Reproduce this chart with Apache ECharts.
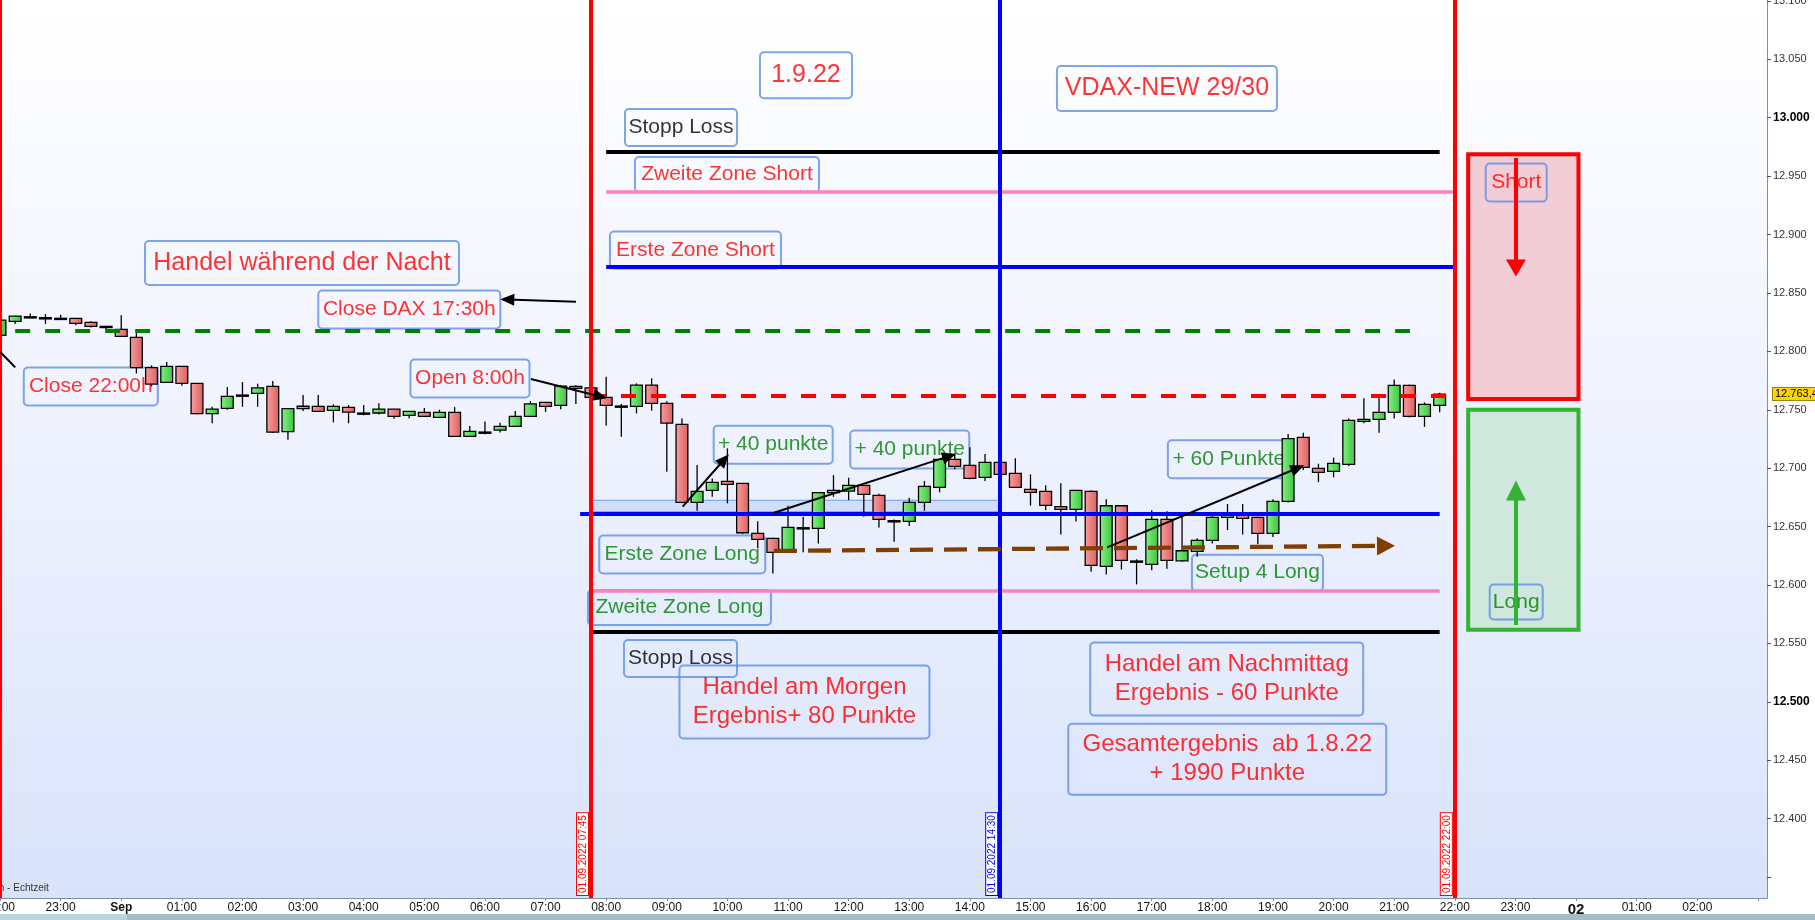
<!DOCTYPE html>
<html><head><meta charset="utf-8">
<script src="https://cdn.jsdelivr.net/npm/echarts@6/dist/echarts.min.js"></script>
<style>html,body{margin:0;padding:0;background:#fff;overflow:hidden}#c{width:1815px;height:920px}</style>
</head><body><div id="c"></div>
<script>
// ===== DATA (15-minute DAX candles, hours relative to 01.09.2022 00:00; first slot = 31.08 22:00) =====
const firstSlot = -2;
const slotStep = 0.25;
const openP = [12813.7,12825.7,12829.6,12828.8,12828.3,12828.3,12824.8,12821.4,12818.8,12812,
 12786,12773.5,12787.2,12772.6,12746.6,12751.2,12762.6,12764,12770,12731.2,
 12751,12752.9,12749.5,12752,12747.2,12747.2,12750.6,12745.2,12747.8,12743.5,
 12747.8,12727.2,12730.9,12732.6,12735.8,12744.3,12756.3,12753.8,12770,12768.8,
 12760.6,12753.2,12752.9,12771.1,12755.5,12737.5,12670.7,12681,12688.7,12687,
 12644.2,12639.9,12627.9,12649,12648.5,12679,12680.4,12685.3,12676.7,12655,
 12654.4,12670.7,12683.6,12707.5,12702.4,12692.1,12705,12695.6,12681.8,12680.1,
 12667,12664.7,12680.1,12615.9,12667.8,12620.5,12617.6,12656.2,12620.7,12628.8,
 12638.2,12657.9,12660.1,12657.9,12644.2,12671.6,12726.4,12699.8,12697.3,12703.3,
 12740.1,12741.8,12747.8,12770.9,12744.3,12753.8];
const closeP = [12826.8,12830.2,12829.6,12828.8,12828.3,12824,12821.4,12821.4,12812.8,12786,
 12772,12787.2,12772.6,12746.6,12750.6,12761.5,12762.6,12768.8,12730.9,12751,
 12753,12748.6,12752.9,12748,12747.2,12750.6,12744.3,12748.6,12744.3,12747.8,
 12727.2,12731.5,12730.9,12735.8,12744.3,12755.1,12752.9,12770.2,12768.3,12760.6,
 12753.8,12753.2,12771.1,12755.5,12738.6,12670.7,12680.1,12687.8,12686.1,12644.7,
 12639.1,12627.9,12649.3,12649,12679,12681,12685.3,12677.6,12656.2,12655,
 12670.7,12684.4,12707.5,12701.5,12691.3,12705,12694.7,12683.6,12679.3,12668.2,
 12664.7,12681,12616.8,12667.8,12621.1,12620.5,12656.2,12621.1,12629.3,12638.2,
 12657.9,12659.6,12657,12644.2,12671.6,12725.2,12700.7,12696.4,12704.1,12740.9,
 12741.8,12747.8,12770.9,12744.3,12754.6,12763.4];
const lowP = [12813,12823.5,12829,12823.4,12827.4,12822.3,12820.5,12818,12812.8,12781,
 12770,12773.5,12770.5,12746,12738.4,12750,12752.6,12752.6,12730,12724.3,
 12748.9,12748,12739.2,12738.4,12745.2,12746,12742.3,12742.5,12744,12743.5,
 12726.6,12727,12729,12730.6,12735.8,12744.3,12748,12750.4,12754.9,12760,
 12736.3,12726.9,12746.9,12749.2,12696.9,12670,12663.5,12675.5,12669.9,12643.6,
 12631.4,12609.9,12627.9,12627.9,12635.6,12675.5,12672.7,12658.4,12649.3,12637,
 12650.4,12663.5,12679.3,12699,12690.5,12689,12694,12683,12667.8,12663.9,
 12643.3,12654.4,12611.3,12609,12613.3,12600.5,12612.5,12613.9,12620,12624.1,
 12635.6,12647,12643.3,12634.8,12641,12670.7,12698.4,12688,12692.1,12701.8,
 12738.4,12730.3,12742.6,12743.5,12735.4,12747.8];
const highP = [12827.5,12830.5,12832.5,12832,12831.3,12828.3,12825.7,12821.4,12831,12816,
 12788,12790.8,12787.2,12772.6,12752.6,12769.5,12773.7,12772.3,12774.6,12751,
 12762.6,12762.6,12754.6,12754,12754,12755.5,12750.6,12748.6,12751.5,12750,
 12752.3,12736,12740,12738.9,12748.9,12757.4,12756.3,12771,12770.9,12770,
 12778.3,12754.9,12772.6,12776.9,12757.2,12742.6,12702.7,12691.2,12716.9,12687,
 12654.5,12640.5,12667.8,12658.4,12679,12694.1,12691.8,12685.3,12678,12656,
 12674.7,12689,12707.5,12712.7,12717.8,12712.1,12709,12708.4,12694.7,12685.3,
 12687,12681,12681,12673.3,12667.8,12622,12663.9,12663,12662.2,12639.9,
 12660,12669.3,12669.3,12658.5,12673.3,12729.2,12730.3,12703.8,12709,12742.6,
 12759.8,12760.3,12776,12771.5,12756.3,12764.5];
const lastPrice = 12763.4;

// horizontal levels: [key, fromHour, toHour, price]
const levels = [
  ['stopShort', 8.0, 21.75, 12971],
  ['zone2Short', 8.0, 22.0, 12936.7],
  ['zone1Short', 8.0, 22.0, 12872.5],
  ['closeDax', -1.75, 21.26, 12818],
  ['open', 7.75, 21.87, 12762],
  ['zone1Long', 7.57, 21.75, 12661],
  ['zone2Long', 7.75, 21.75, 12595.4],
  ['stopLong', 7.75, 21.75, 12559.7]
];
// vertical markers: [key, hour, label]
const vLines = [
  ['red', -2, ''],
  ['red', 7.75, '01.09.2022 07:45'],
  ['blue', 14.5, '01.09.2022 14:30'],
  ['red', 22.0, '01.09.2022 22:00']
];
// arrows: [key, h1, p1, h2, p2]
const arrows = [
  ['black', 7.502, 12842.5, 6.369, 12844.4],
  ['black', 6.759, 12776.3, 7.901, 12761.3],
  ['black', 9.262, 12667.0, 9.948, 12707.4],
  ['black', 10.768, 12661.8, 13.660, 12710.3],
  ['black', 16.266, 12632.2, 19.409, 12700.1],
  ['plain', -2, 12799.7, -1.748, 12786.3],
  ['brown', 10.768, 12629.1, 20.864, 12633.5],
  ['redBig', 23.008, 12965.5, 23.008, 12871.3],
  ['greenBig', 23.008, 12565.7, 23.008, 12680.9]
];
// zones: [key, h1, p1, h2, p2]
const zones = [
  ['band', 7.75, 12672.5, 14.5, 12662.7],
  ['shortBox', 22.22, 12968.7, 24.04, 12759.2],
  ['longBox', 22.22, 12750.0, 24.04, 12561.7]
];
// text notes: [text, hour, price, styleKey]
const notes = [
  ['1.9.22', 11.296, 13036.4, 'bigRed'],
  ['VDAX-NEW 29/30', 17.251, 13025.0, 'bigRed'],
  ['Stopp Loss', 9.234, 12991.6, 'black'],
  ['Zweite Zone Short', 9.993, 12951.4, 'red'],
  ['Erste Zone Short', 9.473, 12886.8, 'red'],
  ['Handel während der Nacht', 2.982, 12875.6, 'bigRed'],
  ['Close DAX 17:30h', 4.752, 12835.8, 'red'],
  ['Close 22:00h', -0.502, 12769.9, 'red'],
  ['Open 8:00h', 5.753, 12776.7, 'red'],
  ['+ 40 punkte', 10.755, 12720.1, 'green'],
  ['+ 40 punkte', 13.008, 12716.0, 'green'],
  ['+ 60 Punkte', 18.272, 12707.6, 'green'],
  ['Erste Zone Long', 9.255, 12626.1, 'green'],
  ['Zweite Zone Long', 9.209, 12580.7, 'green'],
  ['Setup 4 Long', 18.744, 12610.5, 'green'],
  ['Stopp Loss', 9.226, 12537.0, 'black'],
  ['Handel am Morgen\nErgebnis+ 80 Punkte', 11.271, 12499.8, 'twoRed'],
  ['Handel am Nachmittag\nErgebnis - 60 Punkte', 18.237, 12519.5, 'twoRed'],
  ['Gesamtergebnis  ab 1.8.22\n+ 1990 Punkte', 18.246, 12450.7, 'twoRed'],
  ['Short', 23.013, 12944.5, 'red'],
  ['Long', 23.013, 12585.4, 'green']
];
// box sizes for the notes (same order as notes)
const noteBox = [[92,46],[220,45],[112,37],[184,35],[171,37],[314,44],[182,38],[134,38],[119,38],
  [119,38],[119,38],[122,38],[166,38],[183,35],[131,36],[113,37],[250,73],[273,73],[318,71],[61,38],[53,35]];

// ===== CHART =====
const Y_MIN = 12332, Y_MAX = 13100.8, X_MIN = firstSlot, X_MAX = 27.15;
const FONT = "'Liberation Sans', Arial, sans-serif";
const chart = echarts.init(document.getElementById('c'), null, {renderer: 'canvas'});

const candleData = openP.map((o, i) => [firstSlot + i * slotStep, o, closeP[i], lowP[i], highP[i]]);

const redGrad = new echarts.graphic.LinearGradient(0, 0, 1, 0, [{offset: 0, color: '#f7a0a0'}, {offset: 1, color: '#dc5e5e'}]);
const greenGrad = new echarts.graphic.LinearGradient(0, 0, 1, 0, [{offset: 0, color: '#86f086'}, {offset: 1, color: '#3cc43c'}]);

const levelStyle = {
  stopShort: {color: '#000000', width: 4, type: 'solid'},
  zone2Short: {color: '#ff80c0', width: 3.5, type: 'solid'},
  zone1Short: {color: '#0000ff', width: 4, type: 'solid'},
  closeDax: {color: '#008000', width: 4, type: [15, 15]},
  open: {color: '#ff0000', width: 4, type: [15, 15]},
  zone1Long: {color: '#0000ff', width: 4, type: 'solid'},
  zone2Long: {color: '#ff80c0', width: 3.5, type: 'solid'},
  stopLong: {color: '#000000', width: 4, type: 'solid'}
};
const vColor = {red: '#ff0000', blue: '#0000ff'};
const arrowStyle = {
  black: {line: {color: '#000', width: 2, type: 'solid'}, sym: 'triangle', size: [12, 14]},
  plain: {line: {color: '#000', width: 2, type: 'solid'}, sym: 'none', size: 1},
  brown: {line: {color: '#7f3f00', width: 4.3, type: [23, 11]}, sym: 'triangle', size: [19, 18]},
  redBig: {line: {color: '#ff0000', width: 4, type: 'solid'}, sym: 'triangle', size: [20, 17]},
  greenBig: {line: {color: '#33b233', width: 4, type: 'solid'}, sym: 'triangle', size: [20, 20]}
};
const zoneStyle = {
  band: {color: '#d0defb', borderColor: '#6f9def', borderWidth: 1},
  shortBox: {color: '#f3cdd5', borderColor: '#ff0000', borderWidth: 4},
  longBox: {color: '#cfe7dc', borderColor: '#33b233', borderWidth: 4}
};
const noteStyle = {
  bigRed: {color: '#ff0000', fontSize: 25},
  twoRed: {color: '#ff0000', fontSize: 24, lineHeight: 29},
  red: {color: '#ff0000', fontSize: 21},
  green: {color: '#008000', fontSize: 21},
  black: {color: '#000000', fontSize: 21}
};

const fmtPrice = v => { const s = String(Math.round(v)); return s.slice(0, s.length - 3) + '.' + s.slice(-3); };
const pad2 = n => (n < 10 ? '0' : '') + n;

const markLineData = [];
levels.forEach(([k, h1, h2, p]) => {
  markLineData.push([{coord: [h1, p], lineStyle: levelStyle[k], symbol: 'none'}, {coord: [h2, p], symbol: 'none'}]);
});
vLines.forEach(([k, h, txt]) => {
  const c = vColor[k];
  const item = {coord: [h, Y_MIN], symbol: 'none', lineStyle: {color: c, width: 4, type: 'solid'}};
  if (txt) item.label = {show: true, position: 'insideStartTop', formatter: txt, color: c, fontSize: 10, fontFamily: FONT,
    backgroundColor: '#ffffff', borderColor: c, borderWidth: 1, padding: [1, 2, 0, 2], distance: [3, 3]};
  markLineData.push([item, {coord: [h, Y_MAX], symbol: 'none'}]);
});
arrows.forEach(([k, h1, p1, h2, p2]) => {
  const s = arrowStyle[k];
  markLineData.push([{coord: [h1, p1], symbol: 'none', lineStyle: s.line}, {coord: [h2, p2], symbol: s.sym, symbolSize: s.size}]);
});
markLineData.push({yAxis: lastPrice, symbol: 'none', lineStyle: {color: 'transparent', width: 0},
  label: {show: true, position: 'end', distance: 6, formatter: '12.763,4', color: '#000', fontSize: 11, fontFamily: FONT,
    backgroundColor: '#ffd500', borderColor: '#a08000', borderWidth: 1, padding: [1, 2, 0, 2]}});

const markAreaData = zones.map(([k, h1, p1, h2, p2]) => [{coord: [h1, p1], itemStyle: zoneStyle[k]}, {coord: [h2, p2]}]);

const noteData = notes.map(([txt, h, p, k], i) => {
  const st = noteStyle[k];
  return {value: [h, p], label: {show: true, position: 'inside', formatter: txt, width: noteBox[i][0], height: noteBox[i][1],
    align: 'center', verticalAlign: 'middle', fontSize: st.fontSize, lineHeight: st.lineHeight || Math.round(st.fontSize * 1.2),
    color: st.color, fontFamily: FONT, backgroundColor: 'rgba(255,255,255,0)', borderColor: '#5f8fe6', borderWidth: 1,
    borderRadius: 4, padding: 0}};
});

chart.setOption({
  animation: false,
  backgroundColor: '#ffffff',
  grid: {left: 0, right: 48, top: 0, bottom: 22, show: true, borderWidth: 0, containLabel: false, outerBoundsMode: 'none',
    backgroundColor: new echarts.graphic.LinearGradient(0, 0, 0, 1, [{offset: 0, color: '#ffffff'}, {offset: 0.5, color: '#eef2fe'}, {offset: 1, color: '#d8e3fa'}])},
  xAxis: {type: 'value', min: X_MIN, max: X_MAX, interval: 1,
    axisLine: {show: true, onZero: false, lineStyle: {color: '#8090a0', width: 1}},
    axisTick: {show: true, length: 3, lineStyle: {color: '#8090a0'}},
    splitLine: {show: false},
    axisLabel: {showMaxLabel: false, showMinLabel: true, hideOverlap: false, margin: 4, color: '#111', fontSize: 12, fontFamily: "'Liberation Sans Narrow', 'Liberation Sans', Arial",
      formatter: v => { if (v > 26.5) return ''; if (v === 0) return '{b|Sep}'; if (v === 24) return '{d|02}'; const hh = ((v % 24) + 24) % 24; return pad2(hh) + ':00'; },
      rich: {b: {fontWeight: 'bold', fontSize: 12, fontFamily: FONT, color: '#111'}, d: {fontWeight: 'bold', fontSize: 15, fontFamily: FONT, color: '#111'}}}
  },
  yAxis: {type: 'value', position: 'right', min: Y_MIN, max: Y_MAX, splitNumber: 15,
    axisLine: {show: true, onZero: false, lineStyle: {color: '#8090a0', width: 1}},
    axisTick: {show: true, length: 4, lineStyle: {color: '#555'}},
    splitLine: {show: false},
    axisLabel: {showMinLabel: false, hideOverlap: false, margin: 6, color: '#333', fontSize: 11, fontFamily: FONT,
      formatter: v => (v < 12375 ? '' : (Math.round(v) % 500 === 0 ? '{b|' + fmtPrice(v) + '}' : fmtPrice(v))),
      rich: {b: {fontWeight: 'bold', fontSize: 12, color: '#000', fontFamily: FONT}}}
  },
  series: [
    {name: 'zones', type: 'line', data: [], z: 1, silent: true,
      markArea: {silent: true, z: 1, data: markAreaData}},
    {name: 'notes', type: 'scatter', z: 1.5, silent: true, symbol: 'rect', symbolSize: 1,
      itemStyle: {color: 'transparent'}, data: noteData},
    {name: 'candles', type: 'custom', z: 3, clip: true, silent: true, data: candleData,
      encode: {x: 0, y: [1, 2, 3, 4]},
      renderItem: (params, api) => {
        const t = api.value(0), o = api.value(1), c = api.value(2), l = api.value(3), hi = api.value(4);
        const pO = api.coord([t, o]), pC = api.coord([t, c]), pL = api.coord([t, l]), pH = api.coord([t, hi]);
        const w = api.size([slotStep, 0])[0] * 0.78;
        const x = pO[0];
        const top = Math.min(pO[1], pC[1]), bot = Math.max(pO[1], pC[1]);
        const flat = Math.abs(c - o) < 0.3;
        const fill = flat ? '#000' : (c > o ? greenGrad : redGrad);
        return {type: 'group', children: [
          {type: 'line', shape: {x1: x, y1: pH[1], x2: x, y2: pL[1]}, style: {stroke: '#000', lineWidth: 1.3}},
          {type: 'rect', shape: {x: x - w / 2, y: top, width: w, height: Math.max(bot - top, 1.2)}, style: {fill: fill, stroke: '#000', lineWidth: 1.3}}
        ]};
      }},
    {name: 'levels', type: 'line', data: [], z: 5, silent: true,
      markLine: {silent: true, z: 5, symbol: ['none', 'none'], label: {show: false}, data: markLineData}}
  ],
  graphic: [
    {type: 'rect', left: 0, bottom: 0, shape: {width: 1815, height: 6}, style: {fill: '#a2bcc8'}, silent: true},
    {type: 'rect', left: 0, bottom: 0, shape: {width: 127, height: 6}, style: {fill: '#b9d5df'}, silent: true},
    {type: 'text', left: -4, top: 883, style: {text: 'm - Echtzeit', fontSize: 10, fill: '#333', fontFamily: FONT}, silent: true}
  ]
});
</script>
</body></html>
